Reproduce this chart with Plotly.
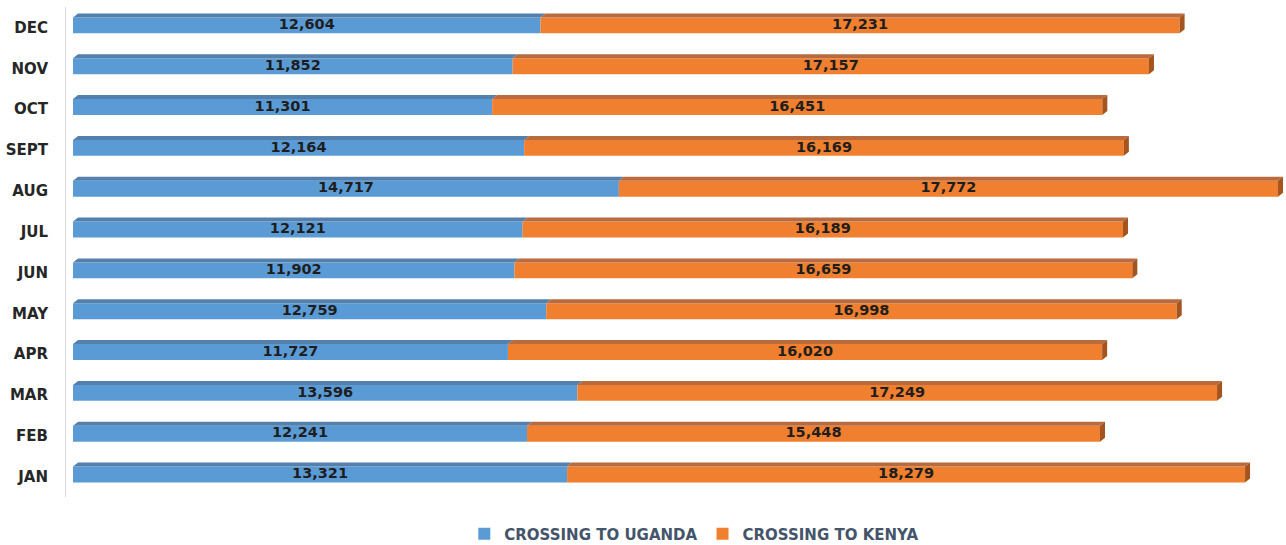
import plotly.graph_objects as go

months = ["JAN", "FEB", "MAR", "APR", "MAY", "JUN", "JUL", "AUG", "SEPT", "OCT", "NOV", "DEC"]
uganda = [13321, 12241, 13596, 11727, 12759, 11902, 12121, 14717, 12164, 11301, 11852, 12604]
kenya = [18279, 15448, 17249, 16020, 16998, 16659, 16189, 17772, 16169, 16451, 17157, 17231]

BLUE = "#5b9bd5"
ORANGE = "#f07f2f"
BLUE_TOP = "#5480ad"
ORANGE_TOP = "#b96b3e"
ORANGE_SIDE = "#a4551f"

pos = list(range(len(months)))
bw = 0.39          # front face thickness (category units)
off = -0.145       # front face offset from category centre
dx = 135           # depth in value units
dy = 0.098         # depth in category units

fig = go.Figure()

fig.add_trace(go.Bar(y=pos, x=uganda, orientation="h", name="CROSSING TO UGANDA",
                     marker=dict(color=BLUE, line=dict(width=0)), width=bw, offset=off))
fig.add_trace(go.Bar(y=pos, x=kenya, base=uganda, orientation="h", name="CROSSING TO KENYA",
                     marker=dict(color=ORANGE, line=dict(width=0)), width=bw, offset=off))

def poly(points_list, color):
    xs, ys = [], []
    for pts in points_list:
        for (a, b) in pts:
            xs.append(a); ys.append(b)
        xs.append(pts[0][0]); ys.append(pts[0][1])
        xs.append(None); ys.append(None)
    return go.Scatter(x=xs, y=ys, fill="toself", fillcolor=color, mode="lines",
                      line=dict(width=0, color=color), showlegend=False, hoverinfo="skip")

blue_top, orange_top, orange_side = [], [], []
for i, u, k in zip(pos, uganda, kenya):
    t = i + off + bw
    b = i + off
    blue_top.append([(0, t), (dx, t + dy), (u + dx, t + dy), (u, t)])
    orange_top.append([(u, t), (u + dx, t + dy), (u + k + dx, t + dy), (u + k, t)])
    orange_side.append([(u + k, t), (u + k + dx, t + dy), (u + k + dx, b + dy), (u + k, b)])

fig.add_trace(poly(blue_top, BLUE_TOP))
fig.add_trace(poly(orange_top, ORANGE_TOP))
fig.add_trace(poly(orange_side, ORANGE_SIDE))

label_font = dict(family="DejaVu Sans", size=14.5, color="#1e1e1e", weight="bold")
fig.add_trace(go.Scatter(x=[u / 2 for u in uganda], y=[i + off + bw / 2 for i in pos],
                         mode="text", text=[f"{u:,}" for u in uganda],
                         textfont=label_font, showlegend=False, hoverinfo="skip"))
fig.add_trace(go.Scatter(x=[u + k / 2 for u, k in zip(uganda, kenya)], y=[i + off + bw / 2 for i in pos],
                         mode="text", text=[f"{k:,}" for k in kenya],
                         textfont=label_font, showlegend=False, hoverinfo="skip"))

fig.update_layout(
    width=1286, height=545,
    margin=dict(l=66, r=0, t=7, b=48, autoexpand=False),
    paper_bgcolor="white", plot_bgcolor="white",
    barmode="overlay",
    showlegend=True,
    legend=dict(orientation="h", x=0.515, xanchor="center", xref="paper",
                y=1 - 534 / 545, yanchor="middle", yref="container",
                font=dict(family="DejaVu Sans", size=15, color="#44546a", weight="bold"),
                traceorder="normal", itemwidth=30),
    xaxis=dict(range=[-189, 32704], showgrid=False, zeroline=False, showticklabels=False,
               showline=False, fixedrange=True),
    yaxis=dict(range=[-0.5, 11.5], tickmode="array", tickvals=pos, ticktext=months,
               showgrid=False, zeroline=False, showline=True, linecolor="#d9d9d9", linewidth=1,
               ticks="", ticklabelstandoff=14, fixedrange=True,
               tickfont=dict(family="DejaVu Sans", size=15, color="#262626", weight="bold")),
)

fig.write_html("out.html", config={"displayModeBar": False},
               post_script="document.body.style.margin='0';")
